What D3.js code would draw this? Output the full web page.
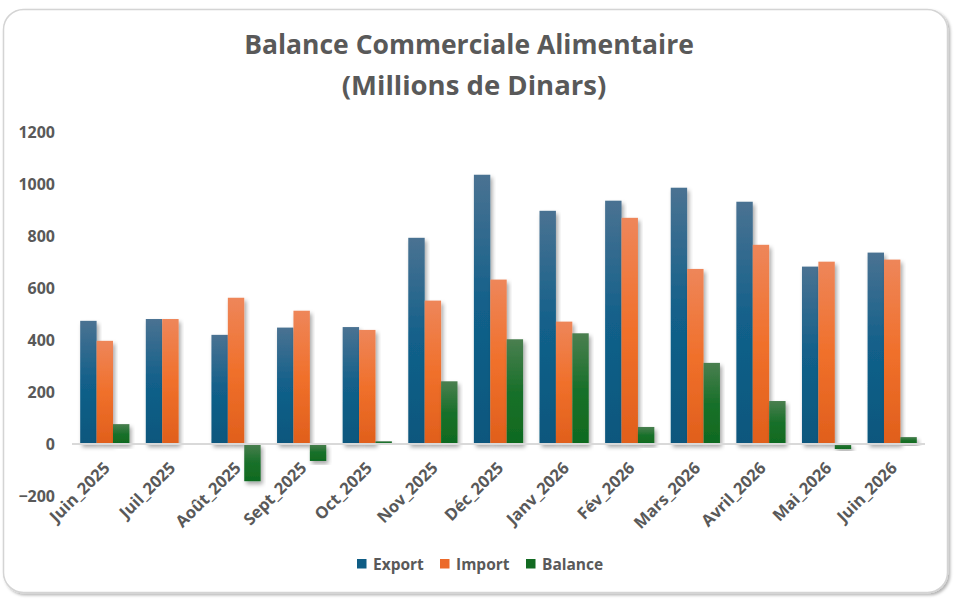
<!DOCTYPE html>
<html>
<head>
<meta charset="utf-8">
<script src="https://cdn.jsdelivr.net/npm/d3@7"></script>
<style>
  body { margin: 0; background: #fff; }
  svg text { font-family: "Open Sans", "Noto Sans", sans-serif; font-weight: bold; fill: #595959; }
</style>
</head>
<body>
<div id="chart"></div>
<script>
const months = ['Juin_2025', 'Juil_2025', 'Août_2025', 'Sept_2025', 'Oct_2025', 'Nov_2025', 'Déc_2025',
  'Janv_2026', 'Fév_2026', 'Mars_2026', 'Avril_2026', 'Mai_2026', 'Juin_2026'];
const exportVals = [475, 482, 421, 449, 451, 795, 1038, 899, 938, 988, 934, 684, 738];
const importVals = [398, 482, 564, 514, 440, 553, 634, 472, 872, 675, 768, 703, 711];
const balanceVals = [77, 0, -143, -65, 11, 242, 404, 427, 66, 313, 166, -19, 27];
const seriesNames = ['Export', 'Import', 'Balance'];
const yTicks = [-200, 0, 200, 400, 600, 800, 1000, 1200];

const W = 963, H = 603;
const margin = { top: 132, right: 38, bottom: 159, left: 72 };
const width = W - margin.left - margin.right;

const svg = d3.select('#chart').append('svg')
  .attr('width', W).attr('height', H);

const defs = svg.append('defs');

// Excel-ish vertical gradients, lighter on top
const grads = [
  { id: 'g-export', top: '#4a7292', mid: '#12608a', bot: '#0b577d' },
  { id: 'g-import', top: '#ee865a', mid: '#f0702b', bot: '#e05f1c' },
  { id: 'g-balance', top: '#4a7f50', mid: '#19702a', bot: '#0f6a1f' }
];
grads.forEach(g => {
  const lg = defs.append('linearGradient').attr('id', g.id)
    .attr('x1', 0).attr('y1', 0).attr('x2', 0).attr('y2', 1);
  lg.append('stop').attr('offset', '0%').attr('stop-color', g.top);
  lg.append('stop').attr('offset', '50%').attr('stop-color', g.mid);
  lg.append('stop').attr('offset', '100%').attr('stop-color', g.bot);
});

const shadow = defs.append('filter').attr('id', 'shadow')
  .attr('x', '-30%').attr('y', '-10%').attr('width', '160%').attr('height', '130%');
shadow.append('feDropShadow').attr('dx', 2).attr('dy', 3).attr('stdDeviation', 2)
  .attr('flood-color', '#000').attr('flood-opacity', 0.35);

const cardShadow = defs.append('filter').attr('id', 'card-shadow')
  .attr('x', '-5%').attr('y', '-5%').attr('width', '110%').attr('height', '110%');
cardShadow.append('feDropShadow').attr('dx', 2).attr('dy', 2).attr('stdDeviation', 1.5)
  .attr('flood-color', '#000').attr('flood-opacity', 0.3);

// card
svg.append('rect')
  .attr('x', 3.5).attr('y', 9.5).attr('width', 944).attr('height', 583)
  .attr('rx', 20).attr('ry', 20)
  .attr('fill', '#fff').attr('stroke', '#d4d4d4').attr('stroke-width', 1.5)
  .attr('filter', 'url(#card-shadow)');

// title
svg.append('text').attr('x', 469).attr('y', 54).attr('text-anchor', 'middle')
  .style('font-size', '26.5px').text('Balance Commerciale Alimentaire');
svg.append('text').attr('x', 474).attr('y', 95).attr('text-anchor', 'middle')
  .style('font-size', '27.5px').text('(Millions de Dinars)');

const g = svg.append('g').attr('transform', `translate(${margin.left},0)`);

const x0 = d3.scaleBand().domain(months).range([0, width]).paddingInner(0.25).paddingOuter(0.125);
const x1 = d3.scaleBand().domain(seriesNames).range([0, x0.bandwidth()]);
const y = d3.scaleLinear().domain([-200, 1200]).range([496, 132.7]);

// y axis labels
const yAxis = g.append('g')
  .call(d3.axisLeft(y).tickValues(yTicks).tickFormat(d3.format('d')).tickSize(0).tickPadding(17));
yAxis.select('.domain').remove();
yAxis.selectAll('text').style('font-size', '16px').attr('fill', '#595959');

// bars
const rows = months.map((m, i) => ({ month: m, vals: [exportVals[i], importVals[i], balanceVals[i]] }));
const groups = g.selectAll('.grp').data(rows).join('g')
  .attr('class', 'grp')
  .attr('transform', d => `translate(${x0(d.month)},0)`);

groups.selectAll('rect')
  .data(d => d.vals.map((v, k) => ({ key: seriesNames[k], v, k })))
  .join('rect')
  .attr('x', d => x1(d.key))
  .attr('width', x1.bandwidth())
  .attr('y', d => y(Math.max(0, d.v)))
  .attr('height', d => Math.abs(y(d.v) - y(0)))
  .attr('fill', d => `url(#${grads[d.k].id})`)
  .attr('filter', 'url(#shadow)');

// zero line
g.append('line')
  .attr('x1', 0).attr('x2', width)
  .attr('y1', y(0)).attr('y2', y(0))
  .attr('stroke', '#d9d9d9').attr('stroke-width', 2);

// x labels
g.selectAll('.xlab').data(months).join('text')
  .attr('class', 'xlab')
  .attr('text-anchor', 'end')
  .attr('transform', d => `translate(${x0(d) + x0.bandwidth() / 2 + 6},${y(0) + 25}) rotate(-45)`)
  .style('font-size', '16.5px')
  .text(d => d);

// legend
const legendItems = [
  { name: 'Export', x: 357, color: '#0f5d85' },
  { name: 'Import', x: 440, color: '#ec6a2a' },
  { name: 'Balance', x: 526, color: '#136b22' }
];
const legend = svg.append('g');
legendItems.forEach(it => {
  legend.append('rect').attr('x', it.x).attr('y', 559).attr('width', 9.5).attr('height', 9.5)
    .attr('fill', it.color);
  legend.append('text').attr('x', it.x + 16).attr('y', 569.5)
    .style('font-size', '15.5px').text(it.name);
});
</script>
</body>
</html>
